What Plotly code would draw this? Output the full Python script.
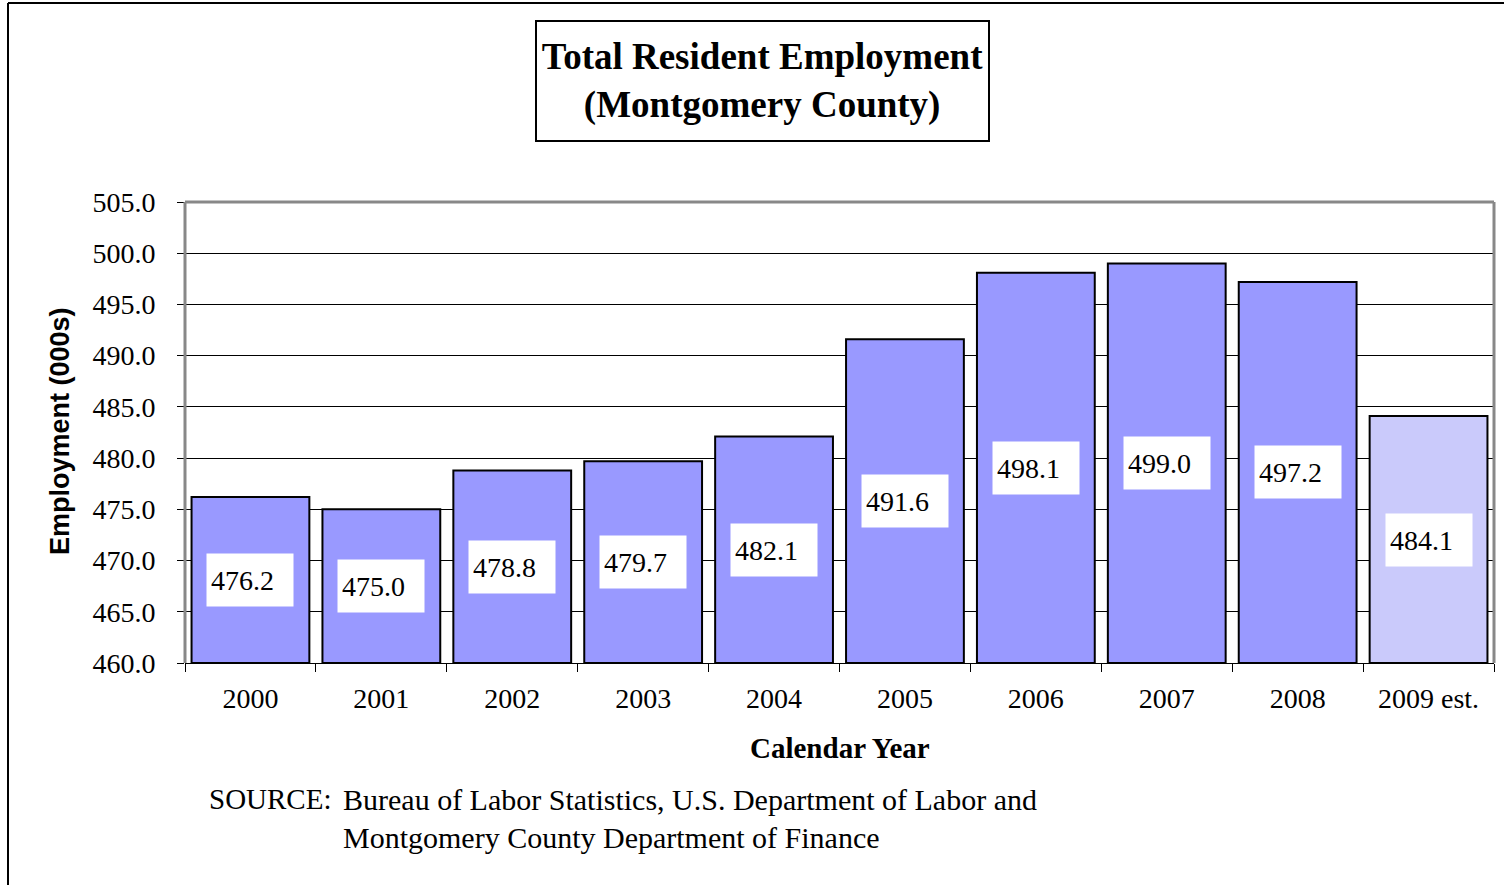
import plotly.graph_objects as go

# Annual resident employment, thousands
years = ["2000", "2001", "2002", "2003", "2004", "2005", "2006", "2007", "2008", "2009 est."]
employment = [476.2, 475.0, 478.8, 479.7, 482.1, 491.6, 498.1, 499.0, 497.2, 484.1]
estimated = [False] * 9 + [True]

y_min, y_max, y_step = 460.0, 505.0, 5.0

W, H = 1504, 885
ML, MR, MT, MB = 185, 10, 202, 222
plot_w = W - ML - MR
plot_h = H - MT - MB

SERIF = "Liberation Serif, Times New Roman, serif"
SANS = "Liberation Sans, Arial, sans-serif"


def px_x(px):
    return (px - ML) / plot_w


def px_y(py):
    return (H - MB - py) / plot_h


positions = list(range(len(years)))
# the estimate is drawn in a lighter shade
bar_colors = ["#CACAFB" if e else "#9999FF" for e in estimated]

fig = go.Figure(
    go.Bar(
        x=positions,
        y=[v - y_min for v in employment],
        base=y_min,
        marker=dict(color=bar_colors, line=dict(color="black", width=2)),
        hoverinfo="skip",
    )
)

annotations = []
# value boxes at the middle of each bar
for pos, v in zip(positions, employment):
    annotations.append(dict(
        x=pos, y=(v + y_min) / 2, xref="x", yref="y",
        text=f"{v:.1f}", showarrow=False,
        font=dict(family=SERIF, size=28, color="black"),
        bgcolor="white", align="left", valign="middle",
        width=78, height=44, borderpad=4,
    ))

# chart title in a framed box
annotations.append(dict(
    x=px_x(762), y=px_y(81), xref="paper", yref="paper",
    xanchor="center", yanchor="middle",
    text="<b>Total Resident Employment</b><br><b>(Montgomery County)</b>",
    showarrow=False, font=dict(family=SERIF, size=37, color="black"),
    bgcolor="white", bordercolor="black", borderwidth=2, borderpad=0,
    width=451, height=118, align="center",
))

# axis titles
annotations.append(dict(
    x=px_x(840), y=px_y(748), xref="paper", yref="paper",
    xanchor="center", yanchor="middle", showarrow=False,
    text="<b>Calendar Year</b>", font=dict(family=SERIF, size=29, color="black"),
))
annotations.append(dict(
    x=px_x(60), y=px_y(431), xref="paper", yref="paper",
    xanchor="center", yanchor="middle", showarrow=False, textangle=-90,
    text="<b>Employment (000s)</b>", font=dict(family=SANS, size=27, color="black"),
))

# source note
annotations.append(dict(
    x=px_x(207), y=px_y(799), xref="paper", yref="paper",
    xanchor="left", yanchor="middle", showarrow=False,
    text="SOURCE:", font=dict(family=SERIF, size=29, color="black"),
))
annotations.append(dict(
    x=px_x(341), y=px_y(799), xref="paper", yref="paper",
    xanchor="left", yanchor="middle", showarrow=False,
    text="Bureau of Labor Statistics, U.S. Department of Labor and",
    font=dict(family=SERIF, size=30, color="black"),
))
annotations.append(dict(
    x=px_x(341), y=px_y(837), xref="paper", yref="paper",
    xanchor="left", yanchor="middle", showarrow=False,
    text="Montgomery County Department of Finance",
    font=dict(family=SERIF, size=30, color="black"),
))

shapes = [
    # plot-area frame (left, top, right)
    dict(type="line", xref="paper", yref="paper", x0=0, x1=0, y0=0, y1=1,
         line=dict(color="#888888", width=3)),
    dict(type="line", xref="paper", yref="paper", x0=0, x1=1, y0=1, y1=1,
         line=dict(color="#888888", width=3)),
    dict(type="line", xref="paper", yref="paper", x0=1, x1=1, y0=0, y1=1,
         line=dict(color="#888888", width=3)),
    # outer chart frame
    dict(type="line", xref="paper", yref="paper", x0=px_x(8), x1=px_x(8), y0=px_y(3), y1=px_y(H + 5),
         line=dict(color="black", width=2)),
    dict(type="line", xref="paper", yref="paper", x0=px_x(8), x1=px_x(W + 5), y0=px_y(3), y1=px_y(3),
         line=dict(color="black", width=2)),
]

fig.update_layout(
    width=W, height=H,
    margin=dict(l=ML, r=MR, t=MT, b=MB, pad=0),
    paper_bgcolor="white", plot_bgcolor="white",
    showlegend=False, bargap=0.1,
    annotations=annotations, shapes=shapes,
    font=dict(family=SERIF, color="black"),
)
fig.update_xaxes(
    type="linear", range=[-0.5, len(years) - 0.5],
    tickmode="array", tickvals=positions, ticktext=years,
    ticks="", showline=True, linecolor="black", linewidth=1,
    showgrid=False, zeroline=False,
    tickfont=dict(family=SERIF, size=28, color="black"),
    ticklabelstandoff=10,
    minor=dict(tick0=-0.5, dtick=1, ticks="outside", ticklen=8,
               tickcolor="black", tickwidth=1, showgrid=False),
)
fig.update_yaxes(
    range=[y_min, y_max], dtick=y_step, tick0=y_min, tickformat=".1f",
    ticks="outside", ticklen=7, tickcolor="black", tickwidth=1,
    showgrid=True, gridcolor="black", gridwidth=1, zeroline=False, showline=False,
    tickfont=dict(family=SERIF, size=28, color="black"), ticklabelstandoff=16,
)

fig.write_html("out.html")
